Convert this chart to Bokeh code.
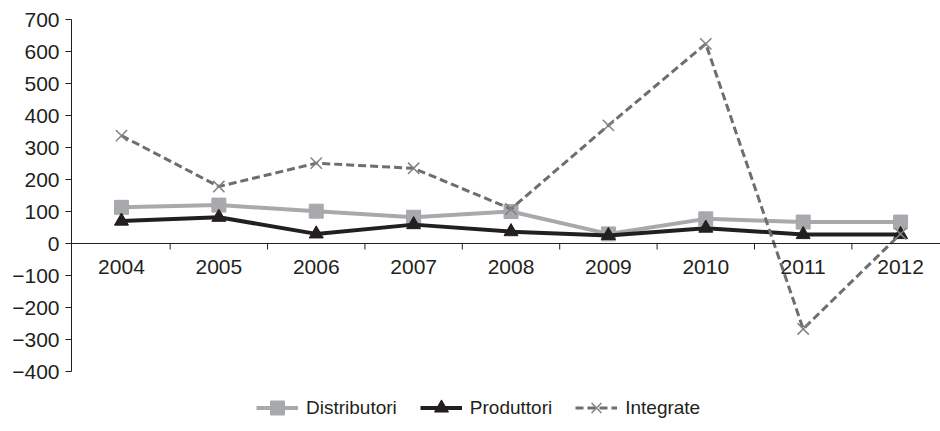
from bokeh.plotting import figure
from bokeh.models import Range1d, FixedTicker, LinearAxis, Legend, LegendItem, Span
from bokeh.core.properties import value
from bokeh.embed import file_html
from bokeh.resources import INLINE

years = ["2004", "2005", "2006", "2007", "2008", "2009", "2010", "2011", "2012"]
distributori = [113, 120, 101, 82, 100, 30, 77, 67, 67]
produttori = [70, 82, 30, 59, 37, 25, 48, 28, 28]
integrate = [337, 178, 251, 235, 108, 369, 624, -267, 30]
y_ticks = [-400, -300, -200, -100, 0, 100, 200, 300, 400, 500, 600, 700]

FONT = "Liberation Sans"
TXT = "#231f20"
xs = list(range(len(years)))
bounds = [i + 0.5 for i in range(len(years) - 1)]
PX = 0.32  # pixels per unit

p = figure(width=940, height=431, output_backend="svg", toolbar_location=None,
           x_range=Range1d(-0.513, 8.41), y_range=Range1d(-400 - 60 / PX, 700),
           x_axis_location=None, y_axis_location=None,
           min_border_left=71, min_border_right=0, min_border_top=19, min_border_bottom=0)
p.outline_line_color = None
p.xgrid.visible = False
p.ygrid.visible = False
p.background_fill_color = "white"
p.border_fill_color = "white"

yaxis = LinearAxis(ticker=FixedTicker(ticks=y_ticks, minor_ticks=[]), bounds=(-400, 700))
yaxis.major_label_overrides = {v: (str(v).replace("-", "\u2212")) for v in y_ticks}
yaxis.axis_line_color = TXT
yaxis.major_tick_line_color = TXT
yaxis.major_tick_out = 6
yaxis.major_tick_in = 0
yaxis.minor_tick_line_color = None
yaxis.major_label_standoff = 6
yaxis.major_label_text_font = FONT
yaxis.major_label_text_font_size = "21px"
yaxis.major_label_text_color = TXT
p.add_layout(yaxis, "left")

# category axis drawn along y = 0
p.add_layout(Span(location=0, dimension="width", line_color=TXT, line_width=1))
tick_len = 6 / PX
p.segment(x0=bounds, y0=[0] * len(bounds), x1=bounds, y1=[-tick_len] * len(bounds),
          line_color=TXT, line_width=1)
p.text(x=xs, y=[0] * len(xs), text=years, y_offset=16, text_align="center",
       text_baseline="top", text_font=value(FONT), text_font_size="21px", text_color=TXT)

c_d = "#a7a9ac"
c_p = "#231f20"
c_i = "#6d6e71"

l1 = p.line(xs, distributori, line_color=c_d, line_width=4)
m1 = p.scatter(xs, distributori, marker="square", size=14, fill_color=c_d, line_color=c_d)
l2 = p.line(xs, produttori, line_color=c_p, line_width=4)
m2 = p.scatter(xs, produttori, marker="triangle", size=14, fill_color=c_p, line_color=c_p)
l3 = p.line(xs, integrate, line_color=c_i, line_width=3, line_dash="8 4")
m3 = p.scatter(xs, integrate, marker="x", size=16, line_color="#808285", line_width=1.5)

legend = Legend(items=[
    LegendItem(label="Distributori", renderers=[l1, m1]),
    LegendItem(label="Produttori", renderers=[l2, m2]),
    LegendItem(label="Integrate", renderers=[l3, m3]),
], orientation="horizontal", location=(185, 6))
legend.padding = 0
legend.margin = 0
legend.border_line_color = None
legend.background_fill_alpha = 0
legend.glyph_width = 42
legend.glyph_height = 35
legend.label_height = 35
legend.label_standoff = 8
legend.spacing = 23
legend.label_text_font = FONT
legend.label_text_font_size = "19px"
legend.label_text_color = TXT
p.add_layout(legend)

open("out.html", "w").write(file_html(p, INLINE))
